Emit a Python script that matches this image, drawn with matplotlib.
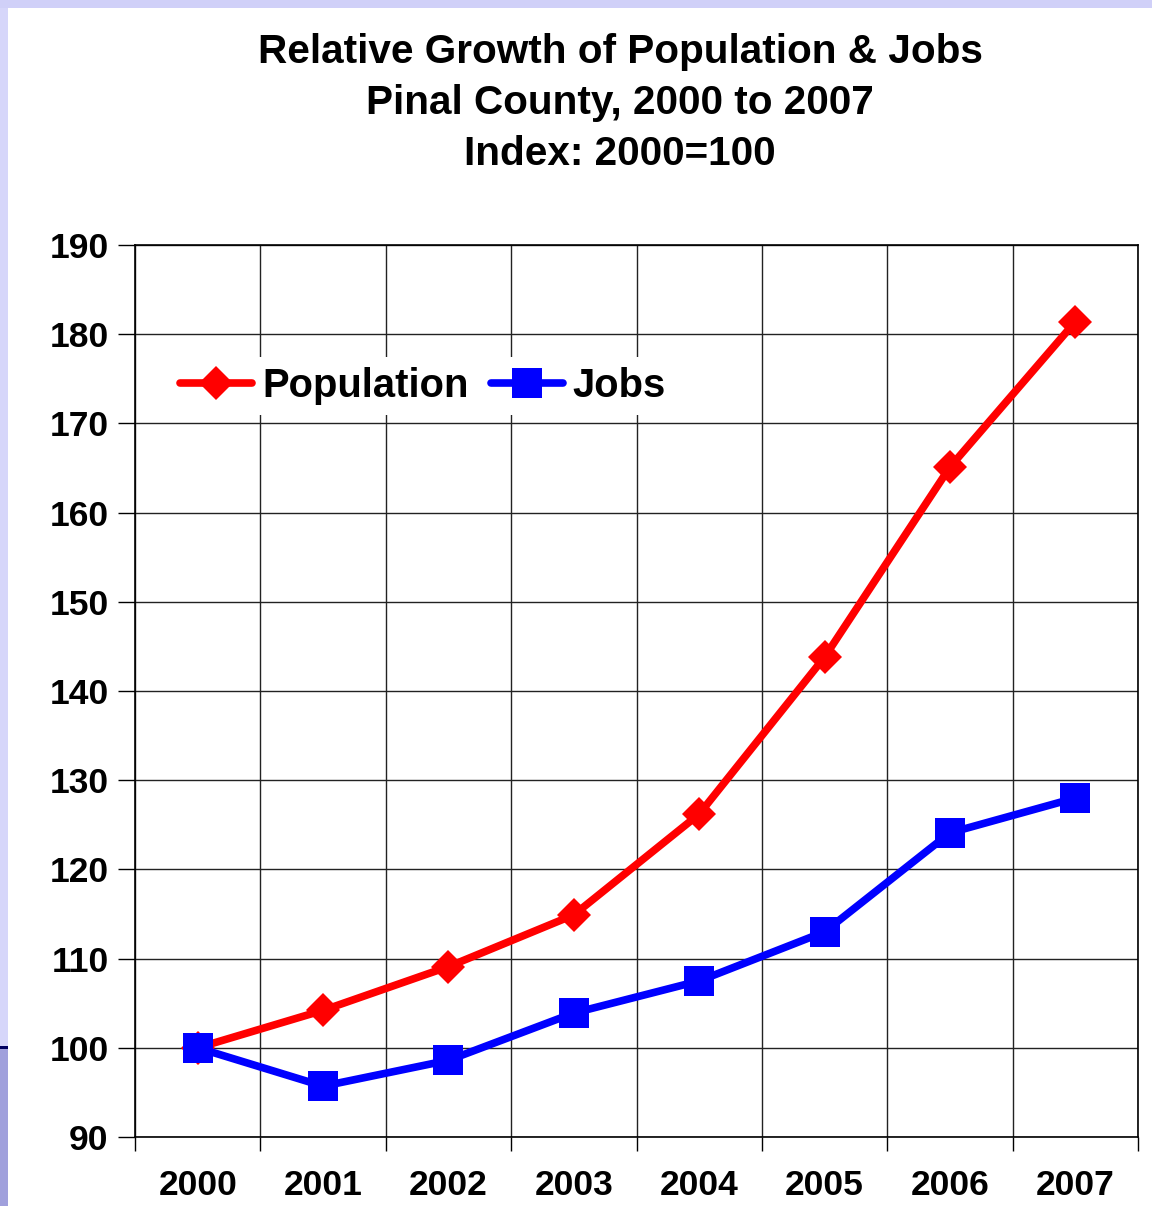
import matplotlib
matplotlib.use("Agg")
import matplotlib.pyplot as plt
from matplotlib.patches import Rectangle
import numpy as np

years = ["2000", "2001", "2002", "2003", "2004", "2005", "2006", "2007"]
population = [100.0, 104.2, 109.1, 114.9, 126.2, 143.8, 165.1, 181.4]
jobs = [100.0, 95.7, 98.6, 103.9, 107.5, 113.0, 124.1, 128.0]
title_lines = ["Relative Growth of Population & Jobs", "Pinal County, 2000 to 2007", "Index: 2000=100"]
yticks = [90, 100, 110, 120, 130, 140, 150, 160, 170, 180, 190]

plt.rcParams['font.family'] = ['Liberation Sans', 'DejaVu Sans']
W, H = 1152, 1206
fig = plt.figure(figsize=(W / 100, H / 100), dpi=100)
fig.patch.set_facecolor("white")

# decorative frame pieces
fig.add_artist(Rectangle((0, 0), 8 / W, 1, transform=fig.transFigure, color="#d6d6fa", lw=0, zorder=0))
fig.add_artist(Rectangle((0, 1 - 8 / H), 1, 8 / H, transform=fig.transFigure, color="#d0d0f8", lw=0, zorder=0))
fig.add_artist(Rectangle((0, 0), 8 / W, (H - 1047) / H, transform=fig.transFigure, color="#a0a0dc", lw=0, zorder=1))
fig.add_artist(Rectangle((0, (H - 1049) / H), 8 / W, 3 / H, transform=fig.transFigure, color="#000060", lw=0, zorder=1))

left, right = 135 / W, 1138 / W
bottom, top = 1 - 1137 / H, 1 - 245 / H
ax = fig.add_axes([left, bottom, right - left, top - bottom])

x = np.arange(len(years))
ax.plot(x, population, color="#ff0000", lw=5.5, marker="D", markersize=17,
        markeredgewidth=0, label="Population", zorder=3, solid_capstyle="round")
ax.plot(x, jobs, color="#0000ff", lw=5.5, marker="s", markersize=22,
        markeredgewidth=0, label="Jobs", zorder=4, solid_capstyle="round")

ax.set_xlim(-0.5, len(years) - 0.5)
ax.set_ylim(90, 190)
ax.set_yticks(yticks)
ax.set_yticklabels([str(t) for t in yticks], fontsize=25.5, fontweight="bold")
ax.set_xticks(x)
ax.set_xticklabels(years, fontsize=25.5, fontweight="bold")
ax.set_xticks(np.arange(-0.5, len(years), 1.0), minor=True)
ax.tick_params(axis="x", which="major", length=0, pad=23)
ax.tick_params(axis="x", which="minor", length=10, width=1, color="black", direction="out")
ax.tick_params(axis="y", which="major", length=12, width=1, color="black", direction="out", pad=7)

ax.grid(True, which="minor", axis="x", color="#222222", lw=1)
ax.grid(True, which="major", axis="y", color="#222222", lw=1)
ax.set_axisbelow(True)
for s in ax.spines.values():
    s.set_color("black")
    s.set_linewidth(1.2)

leg = ax.legend(loc="center left", bbox_to_anchor=(0.035, 0.842), ncol=2, frameon=True,
                prop={"weight": "bold", "size": 28.8}, handlelength=1.8,
                handletextpad=0.25, columnspacing=0.55, borderpad=0.25, borderaxespad=0)
leg.get_frame().set_edgecolor("none")
leg.get_frame().set_facecolor("white")
leg.get_frame().set_alpha(1)
for h in leg.legend_handles:
    h.set_solid_capstyle("round")

for txt, yy in zip(title_lines, [52, 103, 154]):
    fig.text(620 / W, 1 - yy / H, txt, ha="center", va="center", fontsize=29.2, fontweight="bold")

fig.savefig("out.png", dpi=100, facecolor=fig.get_facecolor())
